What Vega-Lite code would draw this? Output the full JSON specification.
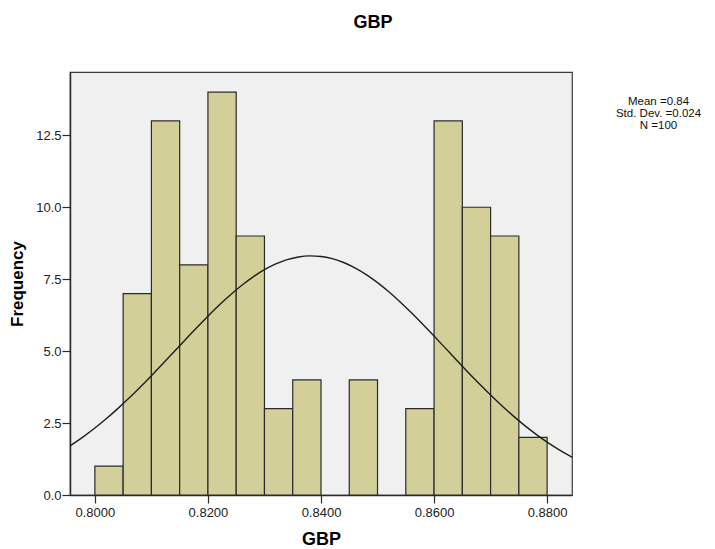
{
  "$schema": "https://vega.github.io/schema/vega-lite/v6.json",
  "width": 502,
  "height": 423,
  "autosize": {"type": "none"},
  "padding": {"left": 70, "top": 72, "right": 143, "bottom": 54},
  "background": "white",
  "config": {
    "font": "Liberation Sans",
    "view": {"fill": "#F0F0F0", "stroke": "#3a3a3a", "strokeWidth": 1.2}
  },
  "title": {
    "text": "GBP",
    "fontSize": 18,
    "fontWeight": "bold",
    "color": "#000000",
    "anchor": "middle",
    "frame": "group",
    "dx": 52,
    "offset": 40
  },
  "datasets": {
    "bins": [
      {"bin_start": 0.800, "bin_end": 0.805, "count": 1},
      {"bin_start": 0.805, "bin_end": 0.810, "count": 7},
      {"bin_start": 0.810, "bin_end": 0.815, "count": 13},
      {"bin_start": 0.815, "bin_end": 0.820, "count": 8},
      {"bin_start": 0.820, "bin_end": 0.825, "count": 14},
      {"bin_start": 0.825, "bin_end": 0.830, "count": 9},
      {"bin_start": 0.830, "bin_end": 0.835, "count": 3},
      {"bin_start": 0.835, "bin_end": 0.840, "count": 4},
      {"bin_start": 0.845, "bin_end": 0.850, "count": 4},
      {"bin_start": 0.855, "bin_end": 0.860, "count": 3},
      {"bin_start": 0.860, "bin_end": 0.865, "count": 13},
      {"bin_start": 0.865, "bin_end": 0.870, "count": 10},
      {"bin_start": 0.870, "bin_end": 0.875, "count": 9},
      {"bin_start": 0.875, "bin_end": 0.880, "count": 2}
    ],
    "normal": [
      {"gbp": 0.7956, "freq": 1.707},
      {"gbp": 0.798, "freq": 2.030},
      {"gbp": 0.800, "freq": 2.326},
      {"gbp": 0.802, "freq": 2.648},
      {"gbp": 0.804, "freq": 2.993},
      {"gbp": 0.806, "freq": 3.360},
      {"gbp": 0.808, "freq": 3.746},
      {"gbp": 0.810, "freq": 4.147},
      {"gbp": 0.812, "freq": 4.559},
      {"gbp": 0.814, "freq": 4.977},
      {"gbp": 0.816, "freq": 5.397},
      {"gbp": 0.818, "freq": 5.812},
      {"gbp": 0.820, "freq": 6.214},
      {"gbp": 0.822, "freq": 6.600},
      {"gbp": 0.824, "freq": 6.960},
      {"gbp": 0.826, "freq": 7.288},
      {"gbp": 0.828, "freq": 7.580},
      {"gbp": 0.830, "freq": 7.829},
      {"gbp": 0.832, "freq": 8.029},
      {"gbp": 0.834, "freq": 8.179},
      {"gbp": 0.836, "freq": 8.273},
      {"gbp": 0.838, "freq": 8.310},
      {"gbp": 0.840, "freq": 8.290},
      {"gbp": 0.842, "freq": 8.213},
      {"gbp": 0.844, "freq": 8.080},
      {"gbp": 0.846, "freq": 7.894},
      {"gbp": 0.848, "freq": 7.659},
      {"gbp": 0.850, "freq": 7.380},
      {"gbp": 0.852, "freq": 7.062},
      {"gbp": 0.854, "freq": 6.711},
      {"gbp": 0.856, "freq": 6.332},
      {"gbp": 0.858, "freq": 5.934},
      {"gbp": 0.860, "freq": 5.523},
      {"gbp": 0.862, "freq": 5.104},
      {"gbp": 0.864, "freq": 4.684},
      {"gbp": 0.866, "freq": 4.269},
      {"gbp": 0.868, "freq": 3.865},
      {"gbp": 0.870, "freq": 3.474},
      {"gbp": 0.872, "freq": 3.101},
      {"gbp": 0.874, "freq": 2.749},
      {"gbp": 0.876, "freq": 2.420},
      {"gbp": 0.878, "freq": 2.116},
      {"gbp": 0.880, "freq": 1.837},
      {"gbp": 0.882, "freq": 1.584},
      {"gbp": 0.884, "freq": 1.356},
      {"gbp": 0.8844, "freq": 1.313}
    ]
  },
  "resolve": {"scale": {"x": "shared", "y": "shared"}},
  "layer": [
    {
      "data": {"name": "bins"},
      "mark": {"type": "rect", "fill": "#D3CF98", "stroke": "#2b2b2b", "strokeWidth": 1.2},
      "encoding": {
        "x": {
          "field": "bin_start",
          "type": "quantitative",
          "scale": {"domain": [0.7956, 0.8844], "nice": false, "zero": false},
          "axis": {
            "title": "GBP",
            "titleFontSize": 18,
            "titleFontWeight": "bold",
            "titleColor": "#000000",
            "titlePadding": 11,
            "values": [0.80, 0.82, 0.84, 0.86, 0.88],
            "format": ".4f",
            "labelFontSize": 13,
            "labelColor": "#222222",
            "labelPadding": 3,
            "tickSize": 8,
            "tickColor": "#2b2b2b",
            "tickWidth": 1.2,
            "domainColor": "#2b2b2b",
            "domainWidth": 1.5,
            "grid": false
          }
        },
        "x2": {"field": "bin_end"},
        "y": {
          "field": "count",
          "type": "quantitative",
          "scale": {"domain": [0, 14.7], "nice": false},
          "axis": {
            "title": "Frequency",
            "titleFontSize": 17,
            "titleFontWeight": "bold",
            "titleColor": "#000000",
            "titlePadding": 9,
            "values": [0, 2.5, 5, 7.5, 10, 12.5],
            "format": ".1f",
            "labelFontSize": 13,
            "labelColor": "#222222",
            "labelPadding": 1,
            "tickSize": 8,
            "tickColor": "#2b2b2b",
            "tickWidth": 1.2,
            "domainColor": "#2b2b2b",
            "domainWidth": 1.5,
            "grid": false
          }
        },
        "y2": {"datum": 0}
      }
    },
    {
      "data": {"name": "normal"},
      "mark": {"type": "line", "color": "#1e1e1e", "strokeWidth": 1.4, "interpolate": "monotone"},
      "encoding": {
        "x": {"field": "gbp", "type": "quantitative"},
        "y": {"field": "freq", "type": "quantitative"}
      }
    },
    {
      "data": {"values": [{"stat": "summary"}]},
      "mark": {
        "type": "text",
        "align": "center",
        "baseline": "top",
        "fontSize": 11.5,
        "lineHeight": 12,
        "color": "#111111",
        "text": ["Mean =0.84", "Std. Dev. =0.024", "N =100"]
      },
      "encoding": {
        "x": {"datum": 0.8997},
        "y": {"datum": 13.85}
      }
    }
  ]
}
